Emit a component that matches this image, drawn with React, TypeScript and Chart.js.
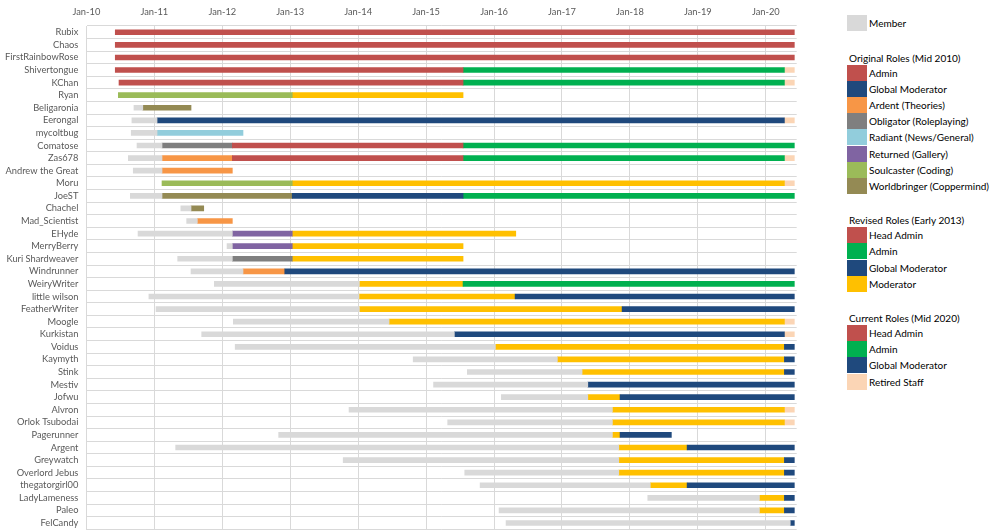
import React, { useEffect, useRef } from "react";
import { Chart, registerables } from "chart.js";

Chart.register(...registerables);

type Seg = [number, number] | null;
const _ = null;

const names: string[] = [
  "Rubix", "Chaos", "FirstRainbowRose", "Shivertongue", "KChan", "Ryan", "Beligaronia", "Eerongal",
  "mycoltbug", "Comatose", "Zas678", "Andrew the Great", "Moru", "JoeST", "Chachel", "Mad_Scientist",
  "EHyde", "MerryBerry", "Kuri Shardweaver", "Windrunner", "WeiryWriter", "little wilson", "FeatherWriter",
  "Moogle", "Kurkistan", "Voidus", "Kaymyth", "Stink", "Mestiv", "Jofwu", "Alvron", "Orlok Tsubodai",
  "Pagerunner", "Argent", "Greywatch", "Overlord Jebus", "thegatorgirl00", "LadyLameness", "Paleo", "FelCandy",
];

const yearTicks: number[] = [2010, 2011, 2012, 2013, 2014, 2015, 2016, 2017, 2018, 2019, 2020];
const tickLabels: string[] = ["Jan-10", "Jan-11", "Jan-12", "Jan-13", "Jan-14", "Jan-15", "Jan-16", "Jan-17", "Jan-18", "Jan-19", "Jan-20"];

// one value per row (index as in names), [start, end] in decimal years
const member: Seg[] = [
  _, _, _, _, _, _,
  [2010.70, 2010.83], [2010.67, 2011.04], [2010.66, 2011.04], [2010.745, 2011.113], [2010.617, 2011.113], [2010.69, 2011.113],
  _,
  [2010.647, 2011.113], [2011.39, 2011.54], [2011.476, 2011.633], [2010.76, 2012.148], [2012.07, 2012.148], [2011.344, 2012.148],
  [2011.54, 2012.305], [2011.883, 2014.018], [2010.92, 2014.013], [2011.025, 2014.018], [2012.163, 2014.455], [2011.697, 2015.416],
  [2012.19, 2016.02], [2014.81, 2016.932], [2015.607, 2017.296], [2015.11, 2017.38], [2016.108, 2017.38], [2013.866, 2017.742],
  [2015.318, 2017.742], [2012.83, 2017.742], [2011.314, 2017.836], [2013.78, 2017.836], [2015.569, 2017.836], [2015.795, 2018.30],
  [2018.263, 2019.906], [2016.074, 2019.906], [2016.177, 2020.36],
];
const headAdmin: Seg[] = [
  [2010.425, 2020.42], [2010.425, 2020.42], [2010.425, 2020.42], [2010.425, 2015.544], [2010.48, 2015.544],
  _, _, _, _, [2012.148, 2015.544], [2012.148, 2015.544], _, _, _, _, _, _, _, _, _,
  _, _, _, _, _, _, _, _, _, _, _, _, _, _, _, _, _, _, _, _,
];
const globalMod: Seg[] = [
  _, _, _, _, _, _, _, [2011.04, 2020.274], _, _, _, _, _, [2013.03, 2015.544], _, _, _, _, _, [2012.92, 2020.42],
  _, [2016.31, 2020.42], [2017.885, 2020.42], _, [2015.416, 2020.274], [2020.274, 2020.42], [2020.274, 2020.42], [2020.274, 2020.42],
  [2017.38, 2020.42], [2017.855, 2020.42], _, _, [2017.855, 2018.61], [2018.842, 2020.42], [2020.274, 2020.42], [2020.274, 2020.42],
  [2018.842, 2020.42], [2020.274, 2020.42], [2020.274, 2020.42], [2020.36, 2020.42],
];
const ardent: Seg[] = [
  _, _, _, _, _, _, _, _, _, _, [2011.113, 2012.148], [2011.113, 2012.148], _, _, _, [2011.633, 2012.148], _, _, _, [2012.305, 2012.92],
  _, _, _, _, _, _, _, _, _, _, _, _, _, _, _, _, _, _, _, _,
];
const obligator: Seg[] = [
  _, _, _, _, _, _, _, _, _, [2011.113, 2012.148], _, _, _, _, _, _, _, _, [2012.148, 2013.03], _,
  _, _, _, _, _, _, _, _, _, _, _, _, _, _, _, _, _, _, _, _,
];
const radiant: Seg[] = [
  _, _, _, _, _, _, _, _, [2011.04, 2012.305], _, _, _, _, _, _, _, _, _, _, _,
  _, _, _, _, _, _, _, _, _, _, _, _, _, _, _, _, _, _, _, _,
];
const returned: Seg[] = [
  _, _, _, _, _, _, _, _, _, _, _, _, _, _, _, _, [2012.148, 2013.03], [2012.148, 2013.03], _, _,
  _, _, _, _, _, _, _, _, _, _, _, _, _, _, _, _, _, _, _, _,
];
const soulcaster: Seg[] = [
  _, _, _, _, _, [2010.47, 2013.03], _, _, _, _, _, _, [2011.113, 2013.03], _, _, _, _, _, _, _,
  _, _, _, _, _, _, _, _, _, _, _, _, _, _, _, _, _, _, _, _,
];
const worldbringer: Seg[] = [
  _, _, _, _, _, _, [2010.83, 2011.54], _, _, _, _, _, _, [2011.113, 2013.03], [2011.54, 2011.727], _, _, _, _, _,
  _, _, _, _, _, _, _, _, _, _, _, _, _, _, _, _, _, _, _, _,
];
const admin: Seg[] = [
  _, _, _, [2015.544, 2020.274], [2015.544, 2020.274], _, _, _, _, [2015.544, 2020.42], [2015.544, 2020.274], _, _, [2015.544, 2020.42], _, _, _, _, _, _,
  [2015.544, 2020.42], _, _, _, _, _, _, _, _, _, _, _, _, _, _, _, _, _, _, _,
];
const moderator: Seg[] = [
  _, _, _, _, _, [2013.03, 2015.544], _, _, _, _, _, _, [2013.03, 2020.274], _, _, _, [2013.03, 2016.32], [2013.03, 2015.544], [2013.03, 2015.544], _,
  [2014.018, 2015.544], [2014.013, 2016.31], [2014.018, 2017.885], [2014.455, 2020.274], _, [2016.02, 2020.274], [2016.932, 2020.274],
  [2017.296, 2020.274], _, [2017.38, 2017.855], [2017.742, 2020.274], [2017.742, 2020.274], [2017.742, 2017.855], [2017.836, 2018.842],
  [2017.836, 2020.274], [2017.836, 2020.274], [2018.30, 2018.842], [2019.906, 2020.274], [2019.906, 2020.274], _,
];
const retired: Seg[] = [
  _, _, _, [2020.274, 2020.42], [2020.274, 2020.42], _, _, [2020.274, 2020.42], _, _, [2020.274, 2020.42], _, [2020.274, 2020.42], _, _, _, _, _, _, _,
  _, _, _, [2020.274, 2020.42], [2020.274, 2020.42], _, _, _, _, _, [2020.274, 2020.42], [2020.274, 2020.42], _, _, _, _, _, _, _, _,
];

const C = {
  member: "#D9D9D9",
  red: "#C0504D",
  navy: "#1F497D",
  orange: "#F79646",
  obligator: "#7F7F7F",
  radiant: "#92CDDC",
  returned: "#8064A2",
  soulcaster: "#9BBB59",
  worldbringer: "#948A54",
  green: "#00B050",
  yellow: "#FFC000",
  peach: "#FBD5B5",
};

const seriesList: { label: string; data: Seg[]; color: string }[] = [
  { label: "Member", data: member, color: C.member },
  { label: "Head Admin", data: headAdmin, color: C.red },
  { label: "Global Moderator", data: globalMod, color: C.navy },
  { label: "Ardent (Theories)", data: ardent, color: C.orange },
  { label: "Obligator (Roleplaying)", data: obligator, color: C.obligator },
  { label: "Radiant (News/General)", data: radiant, color: C.radiant },
  { label: "Returned (Gallery)", data: returned, color: C.returned },
  { label: "Soulcaster (Coding)", data: soulcaster, color: C.soulcaster },
  { label: "Worldbringer (Coppermind)", data: worldbringer, color: C.worldbringer },
  { label: "Admin", data: admin, color: C.green },
  { label: "Moderator", data: moderator, color: C.yellow },
  { label: "Retired Staff", data: retired, color: C.peach },
];

const legendGroups: { title: string | null; items: [string, string][] }[] = [
  { title: null, items: [["Member", C.member]] },
  {
    title: "Original Roles (Mid 2010)",
    items: [
      ["Admin", C.red], ["Global Moderator", C.navy], ["Ardent (Theories)", C.orange], ["Obligator (Roleplaying)", C.obligator],
      ["Radiant (News/General)", C.radiant], ["Returned (Gallery)", C.returned], ["Soulcaster (Coding)", C.soulcaster],
      ["Worldbringer (Coppermind)", C.worldbringer],
    ],
  },
  {
    title: "Revised Roles (Early 2013)",
    items: [["Head Admin", C.red], ["Admin", C.green], ["Global Moderator", C.navy], ["Moderator", C.yellow]],
  },
  {
    title: "Current Roles (Mid 2020)",
    items: [["Head Admin", C.red], ["Admin", C.green], ["Global Moderator", C.navy], ["Retired Staff", C.peach]],
  },
];

const FONT = "Lato, 'Liberation Sans', sans-serif";
const LEGEND_FONT_SIZE = 10;
const AXIS_FONT_SIZE = 9.3;

function Legend() {
  const els: React.ReactNode[] = [];
  let y = 15.3;
  const itemH = 16.2;
  legendGroups.forEach((g, gi) => {
    if (g.title) {
      els.push(
        <div key={"t" + gi} style={{ position: "absolute", left: 849, top: y + 26 - 8, height: 16, lineHeight: "16px", fontSize: LEGEND_FONT_SIZE, whiteSpace: "nowrap", color: "#000" }}>
          {g.title}
        </div>
      );
      y = y + 26 + 7;
    }
    g.items.forEach(([label, color], ii) => {
      els.push(
        <div key={"s" + gi + "_" + ii} style={{ position: "absolute", left: 847, top: y, width: 20, height: itemH, background: color }} />
      );
      els.push(
        <div key={"l" + gi + "_" + ii} style={{ position: "absolute", left: 869, top: y, height: itemH, lineHeight: itemH + "px", fontSize: LEGEND_FONT_SIZE, whiteSpace: "nowrap", color: "#000" }}>
          {label}
        </div>
      );
      y += itemH;
    });
  });
  return <>{els}</>;
}

export default function App() {
  const ref = useRef<HTMLCanvasElement | null>(null);
  useEffect(() => {
    if (!ref.current) return;
    const chart = new Chart(ref.current, {
      type: "bar",
      data: {
        labels: names,
        datasets: seriesList.map((s) => ({
          label: s.label,
          data: s.data as any,
          backgroundColor: s.color,
          borderWidth: 0,
          borderSkipped: false,
          barThickness: 5,
          grouped: false,
        })),
      },
      options: {
        indexAxis: "y",
        responsive: false,
        animation: false,
        devicePixelRatio: 1,
        layout: { padding: { left: 0, right: 23.3, top: 0, bottom: 2.7 } },
        plugins: { legend: { display: false }, tooltip: { enabled: false } },
        scales: {
          x: {
            type: "linear",
            position: "top",
            min: 2010,
            max: 2020.455,
            afterBuildTicks: (scale: any) => {
              scale.ticks = yearTicks.map((v) => ({ value: v }));
            },
            afterFit: (scale: any) => {
              scale.height = 26;
              scale.paddingLeft = 0;
              scale.paddingRight = 0;
              scale.paddingTop = 0;
              scale.paddingBottom = 0;
            },
            ticks: {
              callback: (v: any) => {
                const i = yearTicks.indexOf(Number(v));
                return i >= 0 ? tickLabels[i] : "";
              },
              color: "#595959",
              font: { family: FONT, size: AXIS_FONT_SIZE },
              padding: 8,
              maxRotation: 0,
              autoSkip: false,
            },
            grid: { color: "#D9D9D9", drawTicks: false, lineWidth: 1 },
            border: { display: false },
          },
          y: {
            type: "category",
            afterFit: (scale: any) => {
              scale.width = 86.4;
              scale.paddingLeft = 0;
              scale.paddingRight = 0;
              scale.paddingTop = 0;
              scale.paddingBottom = 0;
            },
            ticks: {
              color: "#595959",
              font: { family: FONT, size: AXIS_FONT_SIZE },
              padding: 8,
              autoSkip: false,
            },
            grid: { color: "#D9D9D9", drawTicks: false, lineWidth: 1, offset: true },
            border: { display: true, color: "#D9D9D9" },
          },
        },
      } as any,
    });
    return () => chart.destroy();
  }, []);

  return (
    <div style={{ position: "absolute", left: 0, top: 0, width: 1000, height: 532, background: "#fff", fontFamily: FONT, overflow: "hidden" }}>
      <canvas ref={ref} width={820} height={532} style={{ position: "absolute", left: 0, top: 0, display: "block" }} />
      <Legend />
    </div>
  );
}
